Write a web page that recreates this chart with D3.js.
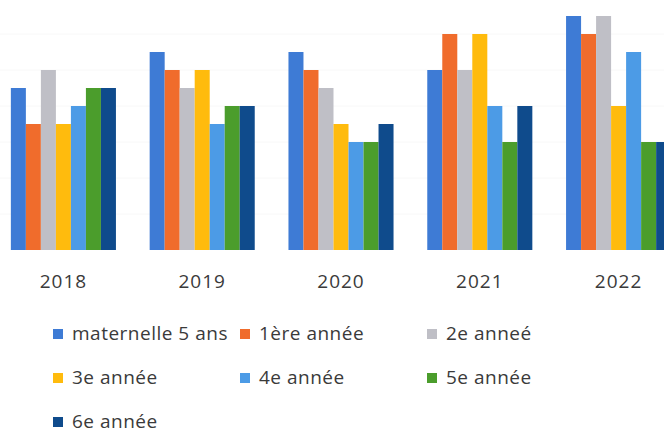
<!DOCTYPE html>
<html lang="fr">

<head>
    <meta charset="UTF-8" />
    <title>Élèves par année</title>
    <style>
        body {
            margin: 0;
            background: #fff;
        }

        #container text {
            font-family: "Open Sans", Lato, sans-serif;
            fill: #3a3a3a;
        }
    </style>
</head>

<body>
    <div id="container"></div>
</body>
<script src="https://cdnjs.cloudflare.com/ajax/libs/d3/7.8.5/d3.min.js"></script>
<script>
    // données
    const years = ['2018', '2019', '2020', '2021', '2022']
    const series = ['maternelle 5 ans', '1ère année', '2e anneé', '3e année', '4e année', '5e année', '6e année']
    const colors = ['#3e7bd5', '#f06c2c', '#bfbfc6', '#ffbb0d', '#4c9be6', '#4b9d2c', '#0f4b8c']
    const maternelle = [9, 11, 11, 10, 13]
    const premiere = [7, 10, 10, 12, 12]
    const deuxieme = [10, 9, 9, 10, 13]
    const troisieme = [7, 10, 7, 12, 8]
    const quatrieme = [8, 7, 6, 8, 11]
    const cinquieme = [9, 8, 6, 6, 6]
    const sixieme = [9, 8, 7, 8, 6]
    const gridTicks = [2, 4, 6, 8, 10, 12]

    const values = [maternelle, premiere, deuxieme, troisieme, quatrieme, cinquieme, sixieme]

    let width = 664, height = 434
    let svg = d3.select('#container').append('svg').attr('width', width).attr('height', height)

    // échelles
    let x = d3.scaleBand().domain(years).range([-6, 688]).paddingInner(0.243).paddingOuter(0.1215)
    let xs = d3.scaleBand().domain(series).range([0, x.bandwidth()])
    let y = d3.scaleLinear().domain([0, 14]).range([250, -2])

    // lignes de grille presque invisibles (scan)
    svg.append('g').selectAll('line').data(gridTicks).enter().append('line')
        .attr('x1', 0).attr('x2', width)
        .attr('y1', d => y(d)).attr('y2', d => y(d))
        .style('stroke', '#f8f8f8')

    // barres
    let group = svg.selectAll('g.year').data(years).enter().append('g')
        .attr('class', 'year')
        .attr('transform', d => `translate(${x(d)}, 0)`)

    group.selectAll('rect').data((d, i) => series.map((s, j) => ({ s: s, v: values[j][i], c: colors[j] })))
        .enter().append('rect')
        .attr('x', d => xs(d.s))
        .attr('y', d => y(d.v))
        .attr('width', xs.bandwidth())
        .attr('height', d => y(0) - y(d.v))
        .style('fill', d => d.c)

    // étiquettes des années
    svg.append('g').selectAll('text').data(years).enter().append('text')
        .attr('x', d => x(d) + x.bandwidth() / 2)
        .attr('y', 288)
        .attr('text-anchor', 'middle')
        .style('font-size', '19px')
        .style('letter-spacing', '1px')
        .text(d => d)

    // légende
    let legend = svg.append('g').selectAll('g').data(series).enter().append('g')
        .attr('transform', (d, i) => `translate(${53 + (i % 3) * 187}, ${329 + Math.floor(i / 3) * 44})`)
    legend.append('rect').attr('width', 10).attr('height', 10).style('fill', (d, i) => colors[i])
    legend.append('text').attr('x', 19).attr('y', 11)
        .style('font-size', '19px').style('letter-spacing', '0.5px')
        .text(d => d)
</script>

</html>
